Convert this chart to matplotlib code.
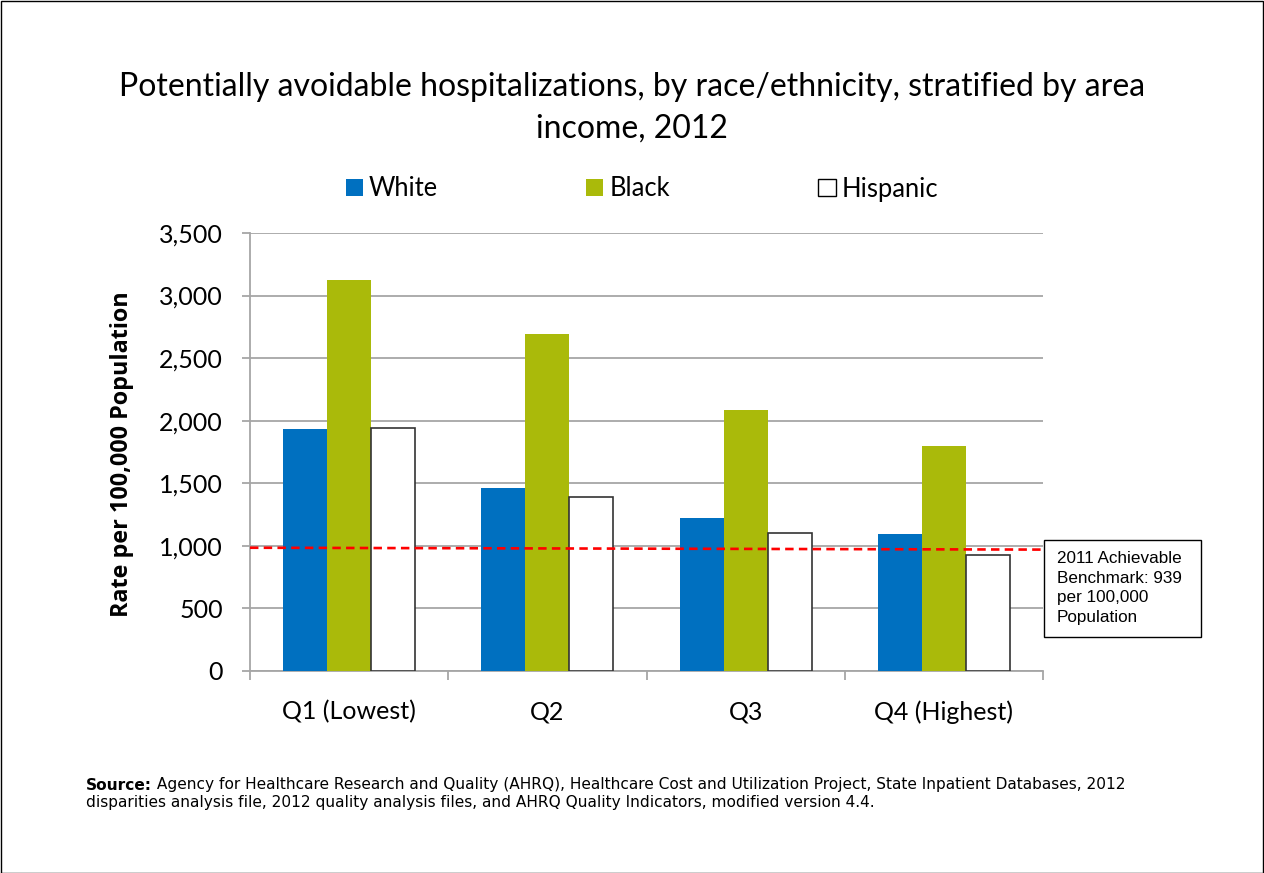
import numpy as np
import matplotlib
matplotlib.use('Agg')
import matplotlib.pyplot as plt
from matplotlib.patches import Rectangle, Patch

# --- data ---
quartiles = ['Q1 (Lowest)', 'Q2', 'Q3', 'Q4 (Highest)']
white = [1936, 1462, 1225, 1092]
black = [3126, 2692, 2088, 1800]
hispanic = [1944, 1390, 1102, 930]
benchmark = [985, 970]  # drawn line, start and end
yticks = [0, 500, 1000, 1500, 2000, 2500, 3000, 3500]

title = ('Potentially avoidable hospitalizations, by race/ethnicity, stratified by area\n'
         'income, 2012')
source_bold = 'Source:'
source_rest = (' Agency for Healthcare Research and Quality (AHRQ), Healthcare Cost and Utilization '
               'Project, State Inpatient Databases, 2012')
source_line2 = ('disparities analysis file, 2012 quality analysis files, and AHRQ Quality Indicators, '
                'modified version 4.4.')
bench_text = '2011 Achievable\nBenchmark: 939\nper 100,000\nPopulation'

W, H = 1264, 873
sans = ['Lato', 'DejaVu Sans']
arial = ['Liberation Sans', 'DejaVu Sans']
blue = '#0070C0'
green = '#AABA0A'
grid_c = '#A6A6A6'

fig = plt.figure(figsize=(W / 100, H / 100), dpi=100)
fig.patches.append(Rectangle((0.5 / W, 0.5 / H), 1 - 1.5 / W, 1 - 1 / H, transform=fig.transFigure,
                             fill=False, edgecolor='black', linewidth=1))

ax = fig.add_axes([250 / W, (H - 671) / H, (1043 - 250) / W, (671 - 233) / H])

x = np.arange(len(quartiles))
bw = 0.222
ax.bar(x - bw, white, bw, color=blue, zorder=3)
ax.bar(x, black, bw, color=green, zorder=3)
ax.bar(x + bw, hispanic, bw, color='white', edgecolor='#333333', linewidth=1.2, zorder=3)

ax.plot([-0.5, 3.525], benchmark, color='#FF0000', linewidth=1.9, linestyle=(0, (3.2, 2.0)),
        clip_on=False, zorder=4)

ax.set_xlim(-0.5, 3.5)
ax.set_ylim(0, 3500)
ax.set_yticks(yticks)
ax.set_yticklabels([f'{v:,}' for v in yticks], family=sans, fontsize=18)
ax.yaxis.grid(True, color=grid_c, linewidth=1.3, zorder=0)
ax.set_axisbelow(True)

ax.set_xticks(np.arange(-0.5, 4.0, 1.0))
ax.set_xticklabels([])
ax.set_xticks(x, minor=True)
ax.set_xticklabels(quartiles, minor=True, family=sans, fontsize=18)
ax.tick_params(axis='x', which='major', length=6.5, color=grid_c, width=1.3)
ax.tick_params(axis='x', which='minor', length=0, pad=21)
ax.tick_params(axis='y', length=6, color=grid_c, width=1.3, pad=13.5)

for s in ['top', 'right']:
    ax.spines[s].set_visible(False)
for s in ['left', 'bottom']:
    ax.spines[s].set_color(grid_c)
    ax.spines[s].set_linewidth(1.3)

ax.set_ylabel('Rate per 100,000 Population', family=['Open Sans', 'DejaVu Sans'],
              fontweight='bold', fontsize=16.8)
ax.yaxis.set_label_coords((134 - 250) / 793, 0.495)

fig.text(0.5, 1 - 108 / H, title, ha='center', va='center', family=sans, fontsize=23,
         linespacing=1.5)

handles = [Patch(facecolor=blue), Patch(facecolor=green),
           Patch(facecolor='white', edgecolor='black', linewidth=1)]
fig.legend(handles, ['White', 'Black', 'Hispanic'], loc='center', bbox_to_anchor=(642 / W, 1 - 189 / H),
           ncol=3, frameon=False, prop={'family': sans, 'size': 18.4}, handlelength=0.67,
           handleheight=0.67, handletextpad=0.24, columnspacing=5.8)

# benchmark box
fig.patches.append(Rectangle((1044 / W, 1 - 637 / H), (1201 - 1044) / W, (637 - 540) / H,
                             transform=fig.transFigure, fill=True, facecolor='white',
                             edgecolor='black', linewidth=1, zorder=5))
fig.text(1057 / W, 1 - 588 / H, bench_text, ha='left', va='center', family=arial, fontsize=12.3,
         linespacing=1.4, zorder=6)

src = ['DejaVu Sans']
t = fig.text(86 / W, 1 - 785 / H, source_bold, ha='left', va='center', family=src,
             fontweight='bold', fontsize=11.1)
fig.canvas.draw()
bb = t.get_window_extent()
fig.text(bb.x1 / W, 1 - 785 / H, source_rest, ha='left', va='center', family=src, fontsize=11.1)
fig.text(86 / W, 1 - 802 / H, source_line2, ha='left', va='center', family=src, fontsize=11.1)

fig.savefig('out.png', dpi=100)
